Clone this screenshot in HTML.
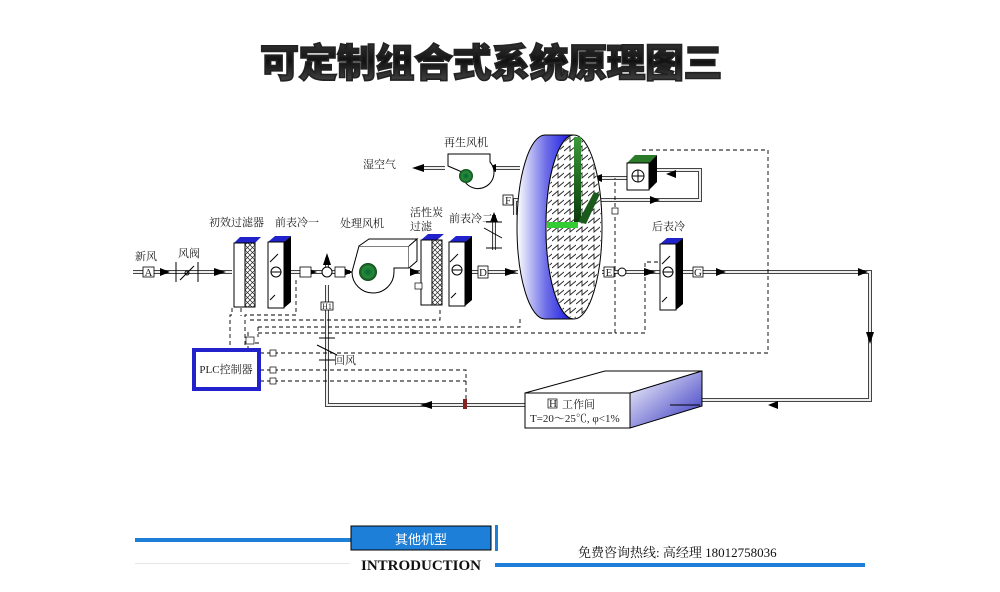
<!DOCTYPE html>
<html><head><meta charset="utf-8"><style>
html,body{margin:0;padding:0;background:#fff;width:1000px;height:592px;overflow:hidden}
svg{display:block}
.t{font-family:"Liberation Serif","Noto Serif CJK SC","Noto Sans CJK SC",serif;font-size:11px;fill:#222}
</style></head><body>
<svg width="1000" height="592" viewBox="0 0 1000 592" xmlns="http://www.w3.org/2000/svg">
<defs>
<linearGradient id="tg" x1="0" y1="0" x2="0" y2="1"><stop offset="0" stop-color="#444"/><stop offset="0.5" stop-color="#111"/><stop offset="1" stop-color="#555"/></linearGradient>
<linearGradient id="wb" x1="0" y1="0" x2="1" y2="0"><stop offset="0" stop-color="#fff"/><stop offset="0.5" stop-color="#7070e8"/><stop offset="1" stop-color="#1010e0"/></linearGradient>
<linearGradient id="rb" x1="0" y1="0" x2="1" y2="1"><stop offset="0" stop-color="#fff"/><stop offset="1" stop-color="#3030c0"/></linearGradient>
<pattern id="zz" width="12" height="9" patternUnits="userSpaceOnUse"><path d="M0 7 L6 2 L6 7 L12 2" fill="none" stroke="#222" stroke-width="0.9"/></pattern>
<pattern id="xh" width="5" height="5" patternUnits="userSpaceOnUse"><path d="M0 0L5 5M5 0L0 5" stroke="#222" stroke-width="0.7"/></pattern>
<radialGradient id="gf"><stop offset="0" stop-color="#063"/><stop offset="0.6" stop-color="#2a8a3a"/><stop offset="1" stop-color="#0a4a1a"/></radialGradient>
<linearGradient id="gv" x1="0" y1="0" x2="0" y2="1"><stop offset="0" stop-color="#3a9a3a"/><stop offset="1" stop-color="#0a3a0a"/></linearGradient>
</defs>

<!-- title -->
<text x="491" y="77" text-anchor="middle" font-family="'Noto Sans CJK SC','WenQuanYi Zen Hei',sans-serif" font-weight="900" font-size="39" fill="url(#tg)" stroke="#222" stroke-width="1.6" letter-spacing="-0.5">可定制组合式系统原理图三</text>

<g fill="none" stroke="#000" stroke-width="1">
<g stroke="#444" stroke-width="4"><path d="M133 272H232M290 272H350M415 272H420M470 272H518M602 272H660M680 272H870V400H700M630 405H525M525 405H327V285M327 272V258"/><path d="M445 168H422M520 168H490M590 178H627M655 170H700V200H515V215M494 215V250"/></g>
<g stroke="#eee" stroke-width="2"><path d="M133 272H232M290 272H350M415 272H420M470 272H518M602 272H660M680 272H870V400H700M630 405H525M525 405H327V285M327 272V258"/><path d="M445 168H422M520 168H490M590 178H627M655 170H700V200H515V215M494 215V250"/></g>
</g>
<g fill="#000">
<path d="M160 268l10 4l-10 4z"/><path d="M214 268l12 4l-12 4z"/><path d="M307 268l10 4l-10 4z"/><path d="M343 268l10 4l-10 4z"/>
<path d="M410 268l10 4l-10 4z"/><path d="M505 268l12 4l-12 4z"/><path d="M644 268l12 4l-12 4z"/><path d="M716 268l10 4l-10 4z"/>
<path d="M858 268l10 4l-10 4z"/><path d="M866 332l4 12l4-12z"/><path d="M778 401l-10 4l10 4z"/><path d="M432 401l-12 4l12 4z"/>
<path d="M323 265l4-12l4 12z"/><path d="M490 222l4-10l4 10z"/><path d="M424 164l-12 4l12 4z"/><path d="M496 164l-10 4l10 4z"/>
<path d="M602 174l-10 4l10 4z"/><path d="M676 170l-10 4l10 4z"/><path d="M650 196l10 4l-10 4z"/>
</g>
<g fill="#fff" stroke="#000" stroke-width="0.8">
<rect x="143" y="267" width="11" height="10"/><rect x="300" y="267" width="11" height="10"/><rect x="335" y="267" width="10" height="10"/>
<rect x="478" y="266" width="10" height="12"/><rect x="503" y="195" width="10" height="10"/><rect x="604" y="267" width="10" height="10"/><rect x="693" y="267" width="10" height="10"/>
<rect x="321" y="302" width="12" height="8"/>
</g>
<g class="t" font-size="9" text-anchor="middle"><text x="148.5" y="276">A</text><text x="483" y="276">D</text><text x="508" y="204">F</text><text x="609" y="276">E</text><text x="698" y="276">G</text><text x="327" y="309" font-size="8">H1</text></g>
<circle cx="327" cy="272" r="5" fill="#fff" stroke="#000"/><circle cx="622" cy="272" r="4" fill="#fff" stroke="#000"/>
<path d="M176 262v20M198 262v20M180 280l14-14" stroke="#000"/><circle cx="187" cy="273" r="2" fill="none" stroke="#000"/>
<path d="M317 345l20 10M319 338h16M319 360h16" stroke="#000"/>
<path d="M484 228l18 10M486 222h16M486 248h16" stroke="#000"/>
<!-- filter1 -->
<path d="M234 243l6-6h21l-6 6z" fill="#22c"/><rect x="234" y="243" width="11" height="64" fill="#fff" stroke="#000"/><rect x="245" y="243" width="10" height="64" fill="url(#xh)" stroke="#000"/>
<!-- cooler1 -->
<path d="M268 242l7-6h16l-7 6z" fill="#22c"/><rect x="268" y="242" width="16" height="66" fill="#fff" stroke="#000"/><path d="M284 242l7-6v66l-7 6z" fill="#000"/><circle cx="276" cy="272" r="5" fill="#fff" stroke="#000"/><path d="M271 272h10M270 262l8-8M270 300l5-5" stroke="#000"/>
<!-- fan -->
<path d="M352 272a21 21 0 1 0 42 0v-4h15v-22h-50z" fill="#fff" stroke="#000"/><path d="M359 246l10-7h48l-8 7M409 246l8-7v22l-8 7" fill="#fff" stroke="#000"/><circle cx="368" cy="272" r="9" fill="url(#gf)"/>
<!-- carbon filter -->
<path d="M421 240l7-6h16l-7 6z" fill="#22c"/><rect x="421" y="240" width="11" height="65" fill="#fff" stroke="#000"/><rect x="432" y="240" width="10" height="65" fill="url(#xh)" stroke="#000"/>
<rect x="415" y="283" width="7" height="6" fill="#fff" stroke="#000" stroke-width="0.7"/>
<!-- cooler2 -->
<path d="M449 242l7-6h16l-7 6z" fill="#22c"/><rect x="449" y="242" width="16" height="64" fill="#fff" stroke="#000"/><path d="M465 242l7-6v64l-7 6z" fill="#000"/><circle cx="457" cy="270" r="5" fill="#fff" stroke="#000"/><path d="M452 270h10M450 262l8-8M451 298l5-5" stroke="#000"/>
<!-- regen fan -->
<path d="M462 172a16 16 0 1 0 28 -10v-8h-42v12z" fill="#fff" stroke="#000"/><circle cx="466" cy="176" r="7" fill="url(#gf)"/>
<!-- wheel -->
<path d="M545 135A28 92 0 0 0 545 319H574A28 92 0 0 1 574 135Z" fill="url(#wb)" stroke="#000"/>
<ellipse cx="574" cy="227" rx="28" ry="92" fill="#fff" stroke="#000"/>
<ellipse cx="574" cy="227" rx="27" ry="91" fill="url(#zz)"/>
<path d="M574 137h7v85h-7z" fill="url(#gv)"/><path d="M578 222l16-30l6 2l-14 30z" fill="#1a5a1a"/><path d="M547 222h31v6h-31z" fill="#3c3"/>
<!-- heater -->
<path d="M627 163l8-8h22l-8 8z" fill="#2a7a2a"/><rect x="627" y="163" width="22" height="27" fill="#fff" stroke="#000"/><path d="M649 163l8-8v27l-8 8z" fill="#000"/><circle cx="638" cy="176" r="6" fill="none" stroke="#000"/><path d="M632 176h12M638 170v12" stroke="#000"/>
<!-- rear cooler -->
<path d="M660 244l7-6h16l-7 6z" fill="#22c"/><rect x="660" y="244" width="16" height="66" fill="#fff" stroke="#000"/><path d="M676 244l7-6v66l-7 6z" fill="#000"/><circle cx="668" cy="272" r="5" fill="#fff" stroke="#000"/><path d="M663 272h10M662 264l8-8M662 302l5-5" stroke="#000"/>
<!-- dashed -->
<g fill="none" stroke="#000" stroke-dasharray="4 3" stroke-width="0.9">
<path d="M232 308v7H230v34M241 308v8M296 280v35H245v34M250 320H440V308M258 327H520V318M258 333H615V178M248 343H262"/>
<path d="M258 327v10M248 332V349"/>
<path d="M658 262H645V333H615"/>
<path d="M260 353H768V150H640"/>
<path d="M260 370H466V403M260 381H466"/>
</g>
<rect x="246" y="337" width="8" height="7" fill="#fff" stroke="#000" stroke-width="0.7"/>
<rect x="612" y="208" width="6" height="6" fill="#fff" stroke="#000" stroke-width="0.7"/>
<rect x="270" y="350" width="6" height="6" fill="#fff" stroke="#000" stroke-width="0.7"/><rect x="270" y="367" width="6" height="6" fill="#fff" stroke="#000" stroke-width="0.7"/><rect x="270" y="378" width="6" height="6" fill="#fff" stroke="#000" stroke-width="0.7"/>
<rect x="463" y="399" width="4" height="10" fill="#822"/>
<!-- PLC -->
<rect x="194" y="350" width="65" height="39" fill="#fff" stroke="#22c" stroke-width="4"/>
<text x="226" y="373" class="t" text-anchor="middle" font-size="10.5">PLC控制器</text>
<!-- workroom -->
<path d="M525 393l80-22h97l-72 22z" fill="#fff" stroke="#000"/><path d="M630 393l72-22v35l-72 22z" fill="url(#rb)" stroke="#000"/><rect x="525" y="393" width="105" height="35" fill="#fff" stroke="#000"/>
<path d="M670 405h30" stroke="#000"/>
<rect x="548" y="399" width="9" height="9" fill="#fff" stroke="#000" stroke-width="0.7"/>
<text x="553" y="407" class="t" font-size="8" text-anchor="middle">H</text>
<text x="562" y="408" class="t" font-size="11">工作间</text>
<text x="530" y="422" class="t" font-size="9.5">T=20～25℃, φ&lt;1%</text>
<g class="t">
<text x="135" y="260">新风</text><text x="178" y="257">风阀</text><text x="209" y="226">初效过滤器</text><text x="275" y="226">前表冷一</text>
<text x="340" y="227">处理风机</text><text x="410" y="216">活性炭</text><text x="410" y="230">过滤</text><text x="449" y="222">前表冷二</text>
<text x="444" y="146">再生风机</text><text x="363" y="168">湿空气</text><text x="652" y="230">后表冷</text><text x="334" y="364">回风</text>
</g>
<!-- footer -->
<rect x="135" y="538" width="216" height="4" fill="#1e7fd8"/>
<rect x="351" y="526" width="140" height="24" fill="#1e7fd8" stroke="#000" stroke-width="1"/>
<text x="421" y="544" text-anchor="middle" font-family="'Noto Sans CJK SC',sans-serif" font-size="13" fill="#fff">其他机型</text>
<rect x="495" y="525" width="3" height="26" fill="#1e7fd8"/>
<rect x="135" y="563" width="215" height="1" fill="#e6e6e6"/>
<text x="421" y="570" text-anchor="middle" font-family="'Liberation Serif',serif" font-weight="bold" font-size="15" fill="#111">INTRODUCTION</text>
<rect x="495" y="563" width="370" height="4" fill="#1e7fd8"/>
<text x="578" y="557" font-family="'Liberation Serif','Noto Serif CJK SC',serif" font-size="13" fill="#111">免费咨询热线: 高经理  18012758036</text>
</svg>
</body></html>
